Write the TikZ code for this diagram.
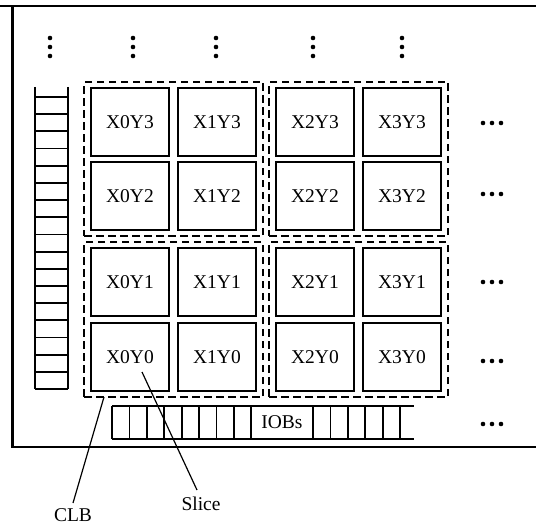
\documentclass[tikz,border=0pt]{standalone}
\usepackage{fontspec}
\setmainfont{Liberation Serif}
\begin{document}
\begin{tikzpicture}[x=1pt,y=-1pt,
  slicebox/.style={draw,line width=2pt,minimum width=78pt,minimum height=68pt,inner sep=0pt,font=\fontsize{19.5}{22}\selectfont},
  clbbox/.style={draw,line width=1.9pt,dash pattern=on 7.5pt off 4.5pt,inner sep=0pt},
  frameline/.style={line width=2.2pt},
  thin/.style={line width=1.8pt},
  lbl/.style={font=\fontsize{19.5}{22}\selectfont,inner sep=0pt},
  dotm/.style={fill=black,draw=none}]
\useasboundingbox (0,0) rectangle (536,527);
% frame
\draw[frameline] (0,6) -- (536,6);
\draw[frameline] (12.5,6) -- (12.5,447) -- (536,447);
% CLB boxes
\node[clbbox,minimum width=179pt,minimum height=154pt] (clbA) at (173.5,159) {};
\node[clbbox,minimum width=179pt,minimum height=154pt] (clbB) at (358.5,159) {};
\node[clbbox,minimum width=179pt,minimum height=155pt] (clbC) at (173.5,319.5) {};
\node[clbbox,minimum width=179pt,minimum height=155pt] (clbD) at (358.5,319.5) {};
% slices
\foreach \c/\x in {0/130,1/217,2/315,3/402}{
  \foreach \r/\y in {3/122,2/196,1/282,0/357}{
    \node[slicebox] (s\c\r) at (\x,\y) {X\c Y\r};
  }
}
% left IOB column
\draw[thin] (35,87) -- (35,389);
\draw[thin] (68,87) -- (68,389);
\foreach \k in {0,...,17}{
  \draw[thin] (35,97+\k*17.18) -- (68,97+\k*17.18);
}
% bottom IOB row
\draw[thin] (112,406) -- (414,406);
\draw[thin] (112,439) -- (414,439);
\foreach \x in {112,129.4,146.8,164.2,181.6,199,216.4,233.8,251.2,313,330.4,347.8,365.2,382.6,400}{
  \draw[thin] (\x,406) -- (\x,439);
}
\node[lbl] (iobs) at (282,422.5) {IOBs};
% vertical ellipses
\foreach \x in {50,133,216,313,402}{
  \foreach \y in {38,47,56}{ \fill[dotm] (\x,\y) circle (2.3pt); }
}
% horizontal ellipses
\foreach \y in {123,194,282,361,424}{
  \foreach \x in {483,492,501}{ \fill[dotm] (\x,\y) circle (2.3pt); }
}
% labels and leaders
\node[lbl] (clbl) at (73,515) {CLB};
\node[lbl] (slbl) at (201,504) {Slice};
\coordinate (clbpt) at (104,397);
\coordinate (clbend) at (73,503);
\coordinate (slpt) at (142,372);
\coordinate (slend) at (197,490);
\draw[line width=1.2pt] (clbpt) -- (clbend);
\draw[line width=1.2pt] (slpt) -- (slend);
\end{tikzpicture}
\end{document}
